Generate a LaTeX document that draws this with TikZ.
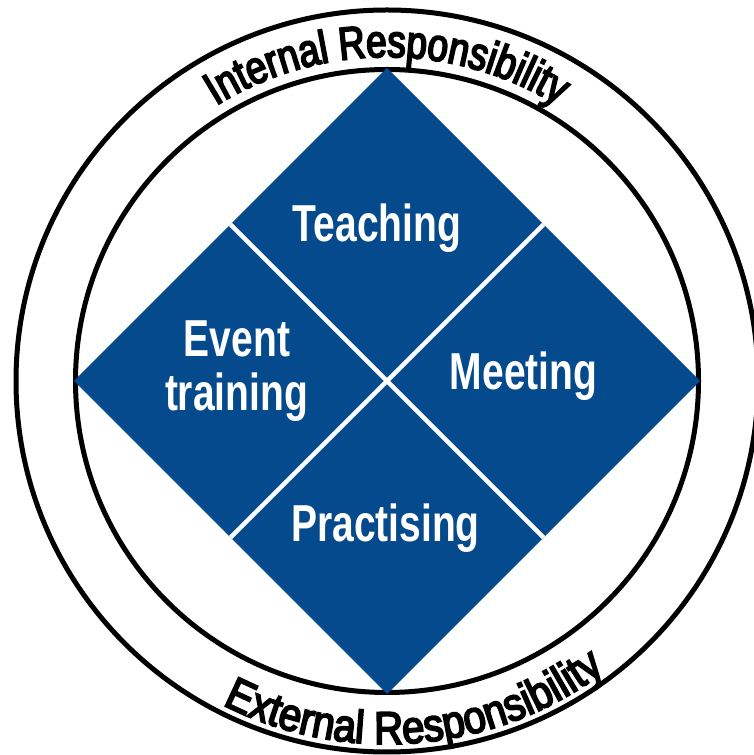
\documentclass[tikz,border=0pt]{standalone}
\usepackage{fontspec}
\usetikzlibrary{decorations.text,calc}
\newfontfamily\lblfont{Liberation Sans}[FakeStretch=0.75]
\newfontfamily\arcfontA{Liberation Sans}[FakeStretch=0.80,FakeBold=4]
\newfontfamily\arcfontB{Liberation Sans}[FakeStretch=0.87,FakeBold=4]
\definecolor{dblue}{RGB}{4,74,140}
\begin{document}
\begin{tikzpicture}[x=1pt,y=1pt,
  lbl/.style={text=white, font=\lblfont\bfseries\fontsize{52}{54}\selectfont, inner sep=0pt, anchor=base},
  ring/.style={draw=black, line width=5pt},
  divider/.style={draw=white, line width=4.5pt}]
\useasboundingbox (0,0) rectangle (754,755);
\coordinate (C) at (387,374);
\coordinate (T) at (387,687);
\coordinate (B) at (387,61);
\coordinate (L) at (74,374);
\coordinate (R) at (700,374);
\coordinate (nw) at ($(T)!0.5!(L)$);
\coordinate (ne) at ($(T)!0.5!(R)$);
\coordinate (sw) at ($(B)!0.5!(L)$);
\coordinate (se) at ($(B)!0.5!(R)$);
% rings
\path[ring] (C) circle[radius=371];
\path[ring] (C) circle[radius=311.5];
% diamond
\fill[dblue] (T) -- (R) -- (B) -- (L) -- cycle;
\path[divider] (nw) -- (se);
\path[divider] (ne) -- (sw);
% labels
\node[lbl] (teach) at (377,513) {Teaching};
\node[lbl] (meet) at (523.5,365) {Meeting};
\node[lbl] (event) at (237,398) {Event};
\node[lbl] (train) at (236.5,344) {training};
\node[lbl] (prac) at (385.5,213) {Practising};
% curved texts
\path[decorate, decoration={text along path, text align=center,
  text={|\arcfontA\fontsize{46}{46}\selectfont|Internal Responsibility}}]
  ($(C)+(180:324)$) arc[start angle=180, end angle=0, radius=324];
\path[decorate, decoration={text along path, text align=center,
  text={|\arcfontB\fontsize{46}{46}\selectfont|External Responsibility}}]
  ($(C)+(185:363)$) arc[start angle=185, end angle=365, radius=363];
\end{tikzpicture}
\end{document}
